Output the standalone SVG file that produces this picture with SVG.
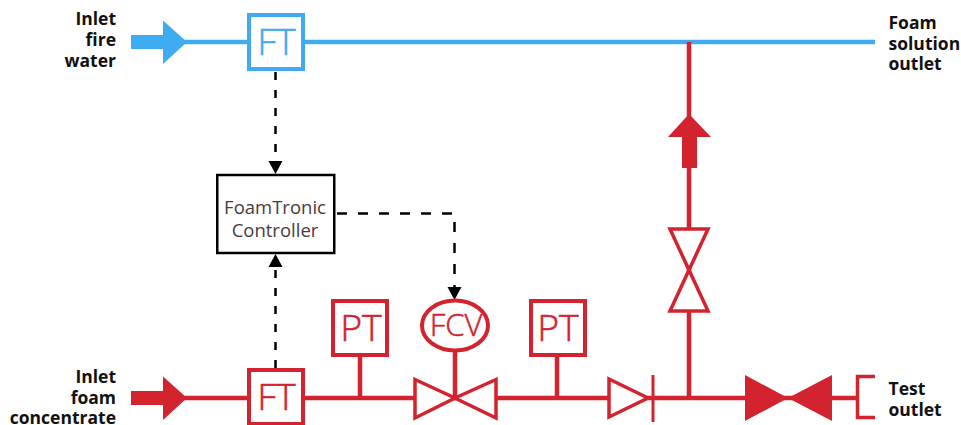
<svg xmlns="http://www.w3.org/2000/svg" width="961" height="425" viewBox="0 0 961 425">
<style>
.blue{stroke:#3fabf0;fill:none}
.red{stroke:#d2232e;fill:none}
.pipe{stroke-width:4.500;fill:none}
.box{stroke-width:4}
.valve{fill:#fff;stroke:#d2232e;stroke-width:3.500;stroke-linejoin:miter}
.solid{fill:#d2232e}
.sig{stroke:#000;stroke-width:2.500;fill:none}
.tag{font-family:"Open Sans",sans-serif;font-weight:300;text-anchor:middle;stroke-width:.5}
.tb{fill:#3fabf0;stroke:#3fabf0}
.tr{fill:#d2232e;stroke:#d2232e}
.ctl{font-family:"Open Sans",sans-serif;font-size:18.500px;fill:#4a3a40;text-anchor:middle}
.label{font-family:"Open Sans",sans-serif;font-weight:700;font-size:17.500px;fill:#111}
.end{text-anchor:end}
</style>
<rect width="961" height="425" fill="#fff"/>
<g id="connectors">
<path class="blue pipe" d="M180 42H875"/>
<path class="red pipe" d="M689 42V398"/>
<path class="red pipe" d="M180 398H857"/>
<path class="red pipe" d="M360 356V398M455 352V398M557 356V398"/>
<path class="sig" stroke-dasharray="8 10" d="M275.500 72V161"/>
<path d="M268.500 161H282.500L275.500 174Z" fill="#000"/>
<path class="sig" stroke-dasharray="8 10" d="M275.500 368V268"/>
<path d="M268.500 267H282.500L275.500 254Z" fill="#000"/>
<path class="sig" stroke-dasharray="10 11" d="M337 213.500H454.500V288"/>
<path d="M447.500 287H461.500L454.500 300Z" fill="#000"/>
</g>
<g id="inlet-water-arrow"><path d="M131 35H163V20.500L187 42L163 64V49H131Z" fill="#3fabf0"/></g>
<g id="inlet-foam-arrow"><path class="solid" d="M131 391H163V376.500L187 398L163 420V405H131Z"/></g>
<g id="ft-water"><rect class="box blue" style="fill:#fff" x="249" y="15" width="54" height="54"/><text class="tag tb" x="276.500" y="55" font-size="37.500">FT</text></g>
<g id="ft-foam"><rect class="box red" style="fill:#fff" x="249" y="370" width="54" height="54"/><text class="tag tr" x="276.500" y="410" font-size="37.500">FT</text></g>
<g id="pt-1"><rect class="box red" style="fill:#fff" x="333" y="301" width="54" height="54"/><text class="tag tr" x="361" y="341" font-size="37.500">PT</text></g>
<g id="pt-2"><rect class="box red" style="fill:#fff" x="531" y="301" width="54" height="54"/><text class="tag tr" x="558" y="341" font-size="37.500">PT</text></g>
<g id="fcv"><ellipse class="box red" style="fill:#fff" cx="455" cy="325.500" rx="33" ry="25"/><text class="tag tr" x="456" y="336" font-size="31">FCV</text></g>
<g id="control-valve"><path class="valve" d="M415 379.500L455 398L415 418ZM496 379.500L455 398L496 418Z"/></g>
<g id="check-valve"><path class="valve" d="M609 379L648 398L609 417Z"/><path class="red" stroke-width="3" d="M653 375V422"/></g>
<g id="branch-arrow"><path class="solid" d="M668 137L689 114L711 137H697V168H682V137Z"/></g>
<g id="branch-valve"><path class="valve" d="M670 229H708L689 270ZM670 311H708L689 270Z"/></g>
<g id="test-valve"><path class="solid" d="M745 375L788 398L745 421ZM832 375L788 398L832 421Z"/></g>
<g id="test-outlet"><path class="red" stroke-width="3.500" d="M875 376.500H857.500V417.500H875"/></g>
<g id="controller"><rect x="217.250" y="175" width="117" height="78" fill="#fff" stroke="#000" stroke-width="2.500"/>
<text class="ctl" x="275" y="214">FoamTronic</text>
<text class="ctl" x="275" y="237">Controller</text></g>
<g id="labels">
<text class="label end" x="116" y="25">Inlet</text>
<text class="label end" x="116" y="46">fire</text>
<text class="label end" x="116" y="67">water</text>
<text class="label end" x="116" y="383">Inlet</text>
<text class="label end" x="116" y="403.500">foam</text>
<text class="label end" x="116" y="424">concentrate</text>
<text class="label" x="888.500" y="28.500">Foam</text>
<text class="label" x="888.500" y="49.500">solution</text>
<text class="label" x="888.500" y="70">outlet</text>
<text class="label" x="888.500" y="395">Test</text>
<text class="label" x="888.500" y="416">outlet</text>
</g>
</svg>
